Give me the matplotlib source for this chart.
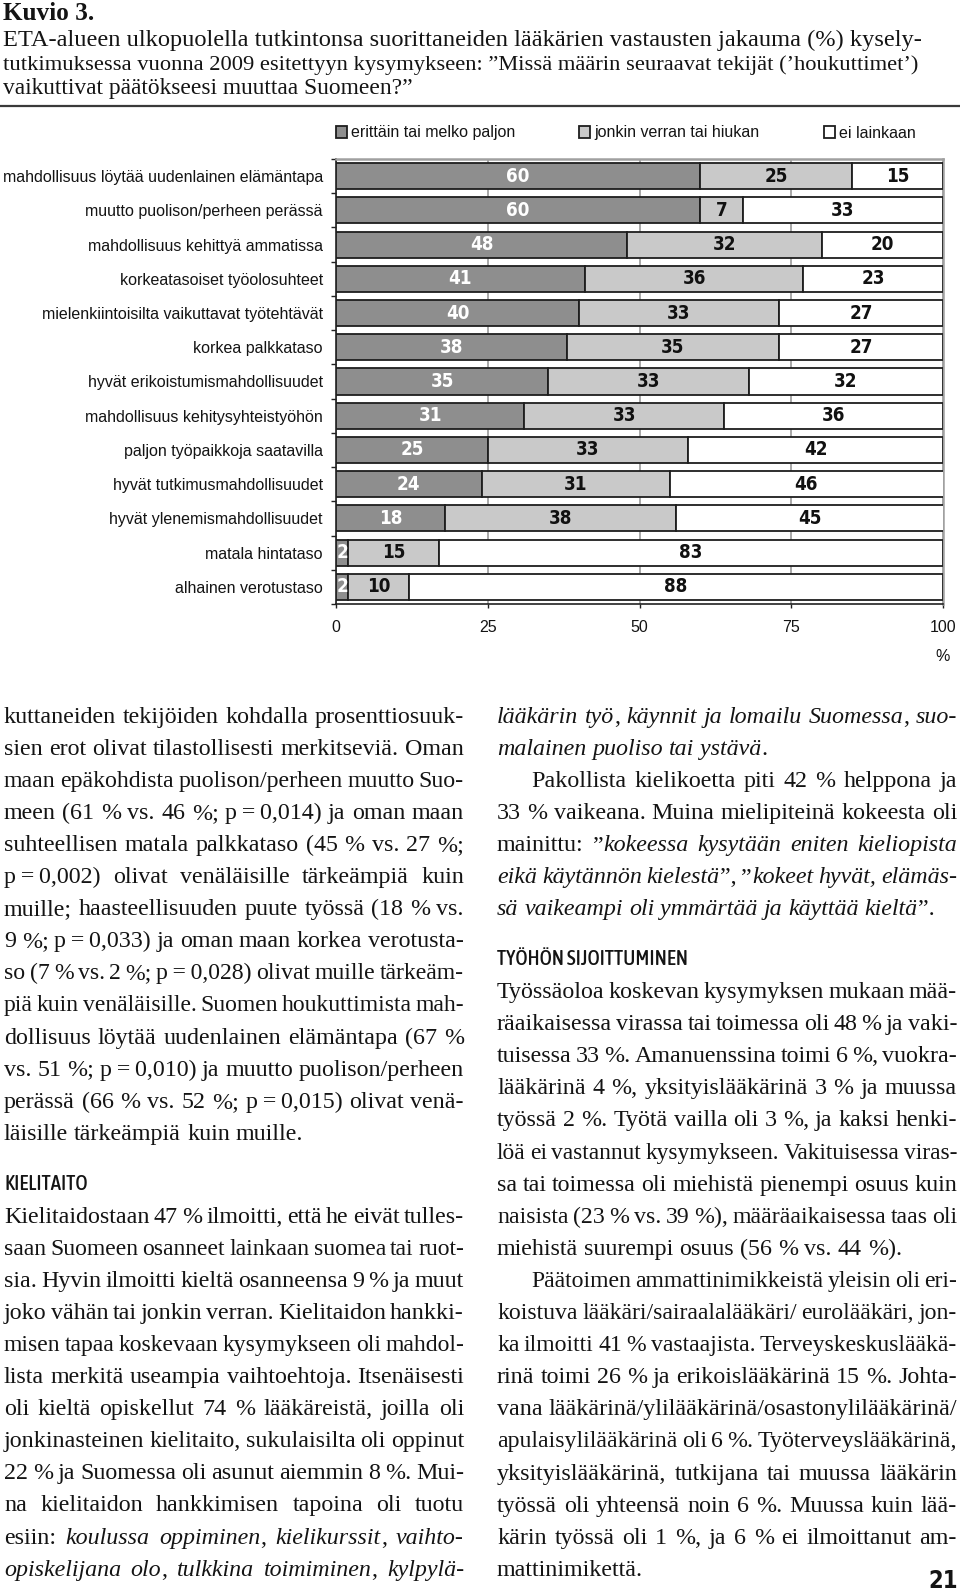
import matplotlib
matplotlib.use("Agg")
import matplotlib.pyplot as plt
import numpy as np
from matplotlib import font_manager
from matplotlib.font_manager import FontProperties

# ---------------- data ----------------
categories = [
    "mahdollisuus löytää uudenlainen elämäntapa",
    "muutto puolison/perheen perässä",
    "mahdollisuus kehittyä ammatissa",
    "korkeatasoiset työolosuhteet",
    "mielenkiintoisilta vaikuttavat työtehtävät",
    "korkea palkkataso",
    "hyvät erikoistumismahdollisuudet",
    "mahdollisuus kehitysyhteistyöhön",
    "paljon työpaikkoja saatavilla",
    "hyvät tutkimusmahdollisuudet",
    "hyvät ylenemismahdollisuudet",
    "matala hintataso",
    "alhainen verotustaso",
]
much = [60, 60, 48, 41, 40, 38, 35, 31, 25, 24, 18, 2, 2]
some = [25, 7, 32, 36, 33, 35, 33, 33, 33, 31, 38, 15, 10]
none = [15, 33, 20, 23, 27, 27, 32, 36, 42, 46, 45, 83, 88]
series_names = ["erittäin tai melko paljon", "jonkin verran tai hiukan", "ei lainkaan"]
xticks = [0, 25, 50, 75, 100]

title_head = "Kuvio 3."
title_lines = [
    "ETA-alueen ulkopuolella tutkintonsa suorittaneiden lääkärien vastausten jakauma (%) kysely-",
    "tutkimuksessa vuonna 2009 esitettyyn kysymykseen: ”Missä määrin seuraavat tekijät (’houkuttimet’)",
    "vaikuttivat päätökseesi muuttaa Suomeen?”",
]

T = "\u2009"
left_par1 = [
    "kuttaneiden tekijöiden kohdalla prosenttiosuuk-",
    "sien erot olivat tilastollisesti merkitseviä. Oman",
    "maan epäkohdista puolison/perheen muutto Suo-",
    f"meen (61 % vs. 46 %; p{T}={T}0,014) ja oman maan",
    "suhteellisen matala palkkataso (45 % vs. 27 %;",
    f"p{T}={T}0,002) olivat venäläisille tärkeämpiä kuin",
    "muille; haasteellisuuden puute työssä (18 % vs.",
    f"9 %; p{T}={T}0,033) ja oman maan korkea verotusta-",
    f"so (7 % vs. 2 %; p{T}={T}0,028) olivat muille tärkeäm-",
    "piä kuin venäläisille. Suomen houkuttimista mah-",
    "dollisuus löytää uudenlainen elämäntapa (67 %",
    f"vs. 51 %; p{T}={T}0,010) ja muutto puolison/perheen",
    f"perässä (66 % vs. 52 %; p{T}={T}0,015) olivat venä-",
    "läisille tärkeämpiä kuin muille.",
]
left_head = "KIELITAITO"
left_par2 = [
    "Kielitaidostaan 47 % ilmoitti, että he eivät tulles-",
    "saan Suomeen osanneet lainkaan suomea tai ruot-",
    "sia. Hyvin ilmoitti kieltä osanneensa 9 % ja muut",
    "joko vähän tai jonkin verran. Kielitaidon hankki-",
    "misen tapaa koskevaan kysymykseen oli mahdol-",
    "lista merkitä useampia vaihtoehtoja. Itsenäisesti",
    "oli kieltä opiskellut 74 % lääkäreistä, joilla oli",
    "jonkinasteinen kielitaito, sukulaisilta oli oppinut",
    "22 % ja Suomessa oli asunut aiemmin 8 %. Mui-",
    "na kielitaidon hankkimisen tapoina oli tuotu",
    "esiin: *koulussa oppiminen*, *kielikurssit*, *vaihto-*",
    "*opiskelijana olo*, *tulkkina toimiminen*, *kylpylä-*",
]
right_par1 = [
    "*lääkärin työ*, *käynnit ja lomailu Suomessa*, *suo-*",
    "*malainen puoliso tai ystävä*.",
    "Pakollista kielikoetta piti 42 % helppona ja",
    "33 % vaikeana. Muina mielipiteinä kokeesta oli",
    "mainittu: ”*kokeessa kysytään eniten kieliopista*",
    "*eikä käytännön kielestä*”, ”*kokeet hyvät, elämäs-*",
    "*sä vaikeampi oli ymmärtää ja käyttää kieltä*”.",
]
right_head = "TYÖHÖN SIJOITTUMINEN"
right_par2 = [
    "Työssäoloa koskevan kysymyksen mukaan mää-",
    "räaikaisessa virassa tai toimessa oli 48 % ja vaki-",
    "tuisessa 33 %. Amanuenssina toimi 6 %, vuokra-",
    "lääkärinä 4 %, yksityislääkärinä 3 % ja muussa",
    "työssä 2 %. Työtä vailla oli 3 %, ja kaksi henki-",
    "löä ei vastannut kysymykseen. Vakituisessa viras-",
    "sa tai toimessa oli miehistä pienempi osuus kuin",
    "naisista (23 % vs. 39 %), määräaikaisessa taas oli",
    "miehistä suurempi osuus (56 % vs. 44 %).",
    "Päätoimen ammattinimikkeistä yleisin oli eri-",
    "koistuva lääkäri/sairaalalääkäri/ eurolääkäri, jon-",
    "ka ilmoitti 41 % vastaajista. Terveyskeskuslääkä-",
    "rinä toimi 26 % ja erikoislääkärinä 15 %. Johta-",
    "vana lääkärinä/ylilääkärinä/osastonylilääkärinä/",
    "apulaisylilääkärinä oli 6 %. Työterveyslääkärinä,",
    "yksityislääkärinä, tutkijana tai muussa lääkärin",
    "työssä oli yhteensä noin 6 %. Muussa kuin lää-",
    "kärin työssä oli 1 %, ja 6 % ei ilmoittanut am-",
    "mattinimikettä.",
]
page_number = "21"

# ---------------- fonts ----------------
avail = {f.name for f in font_manager.fontManager.ttflist}
def pick(names, default):
    for n in names:
        if n in avail:
            return n
    return default
SANS = pick(["Liberation Sans", "Arimo"], "DejaVu Sans")
SERIF = pick(["Liberation Serif", "DejaVu Serif"], "DejaVu Serif")
SERIF_L = [SERIF, "DejaVu Serif"]

def _w(f):
    w = f.weight
    if isinstance(w, str):
        return {"bold": 700, "normal": 400, "medium": 500, "regular": 400,
                "semibold": 600, "light": 300}.get(w.lower(), 400)
    return int(w)

def find_condensed(target_weight):
    cands = []
    for f in font_manager.fontManager.ttflist:
        fn = f.fname.lower()
        nm = f.name.lower()
        st = str(f.stretch).lower()
        if f.style != "normal":
            continue
        cond = ("condensed" in st or "narrow" in nm or "condensed" in nm
                or "condensed" in fn or "narrow" in fn)
        if not cond:
            continue
        pen = 0
        if "extra" in fn or "ultra" in fn or "extra" in st or "ultra" in st:
            pen = 2
        elif "semi" in fn or "semi" in st:
            pen = 1
        cands.append((abs(_w(f) - target_weight), pen, f.fname))
    if not cands:
        return None
    cands.sort()
    return cands[0][2]

COND_BOLD = find_condensed(700)
COND_MED = find_condensed(500)

def cond_fp(path, size, fallback_weight):
    if path:
        return FontProperties(fname=path, size=size)
    return FontProperties(family=SANS, size=size, weight=fallback_weight)

W, H = 960, 1594
fig = plt.figure(figsize=(W / 100, H / 100), dpi=100)
page = fig.add_axes([0, 0, 1, 1], zorder=0)
page.set_xlim(0, W)
page.set_ylim(H, 0)
page.axis("off")
R = fig.canvas.get_renderer()

_cache = {}
def tw(s, size, style="normal", weight="normal"):
    key = (s, round(size, 4), style, weight)
    if key in _cache:
        return _cache[key]
    t = page.text(0, 0, s, fontsize=size, family=SERIF_L, fontstyle=style, fontweight=weight)
    w = t.get_window_extent(renderer=R).width
    t.remove()
    _cache[key] = w
    return w

def tw_fp(s, fp):
    t = page.text(0, 0, s, fontproperties=fp)
    w = t.get_window_extent(renderer=R).width
    t.remove()
    return w

COL = "#141414"
PX = 100 / 72

# ---------------- header ----------------
s_t1 = 20.0 * 918 / tw(title_lines[0], 20.0)
s_t2 = 20.0 * 911 / tw(title_lines[1], 20.0)
s_t3 = 0.5 * (s_t1 + s_t2)
page.text(3, 20, title_head, fontsize=s_t3 * 1.08, family=SERIF_L, weight="bold",
          va="baseline", color=COL)
for i, (ln, s) in enumerate(zip(title_lines, [s_t1, s_t2, s_t3])):
    page.text(3, 46 + 24 * i, ln, fontsize=s, family=SERIF_L, va="baseline", color=COL)
page.plot([0, W], [106, 106], color="#3a3a3a", lw=1.6, solid_capstyle="butt")

# ---------------- chart ----------------
x0, x1, ytop, ybot = 336, 943, 159, 604
ax = fig.add_axes([x0 / W, 1 - ybot / H, (x1 - x0) / W, (ybot - ytop) / H], zorder=2)
y = np.arange(len(categories))
c_dark, c_light, c_white = "#8e8e8e", "#c9c9c9", "#ffffff"
edge = "#1e1e1e"
much_a, some_a, none_a = np.array(much), np.array(some), np.array(none)
b1 = ax.barh(y, much_a, height=0.76, color=c_dark, edgecolor=edge, lw=1.3,
             label=series_names[0], zorder=3)
b2 = ax.barh(y, some_a, left=much_a, height=0.76, color=c_light, edgecolor=edge, lw=1.3,
             label=series_names[1], zorder=3)
b3 = ax.barh(y, none_a, left=much_a + some_a, height=0.76, color=c_white, edgecolor=edge, lw=1.3,
             label=series_names[2], zorder=3)
lab_fp = cond_fp(COND_BOLD, 13.5 if COND_BOLD else 12.5, "bold")
ax.bar_label(b1, labels=[str(v) for v in much], label_type="center", color="white", fontproperties=lab_fp)
ax.bar_label(b2, labels=[str(v) for v in some], label_type="center", color="#111111", fontproperties=lab_fp)
ax.bar_label(b3, labels=[str(v) for v in none], label_type="center", color="#111111", fontproperties=lab_fp)

ax.set_xlim(0, 100)
ax.set_ylim(len(categories) - 0.5, -0.5)
ax.set_xticks(xticks)
ax.set_xticklabels([str(v) for v in xticks], fontsize=11.5, family=SANS, color=COL)
ax.set_yticks(y)
ax.set_yticklabels(categories, fontsize=11.5, family=SANS, color=COL)
ax.set_yticks(np.arange(-0.5, len(categories), 1.0), minor=True)
ax.tick_params(axis="y", which="major", length=0, pad=9.4)
ax.tick_params(axis="y", which="minor", length=3.6, width=1, color="#222222", direction="out")
ax.tick_params(axis="x", which="major", length=3.2, width=1, color="#222222", direction="out", pad=8)
ax.grid(axis="x", color="#9a9a9a", lw=1.2, zorder=0)
ax.set_axisbelow(True)
for sp in ["left", "bottom"]:
    ax.spines[sp].set_color("#222222")
    ax.spines[sp].set_linewidth(1.2)
for sp in ["top", "right"]:
    ax.spines[sp].set_color("#a0a0a0")
    ax.spines[sp].set_linewidth(1.8)

leg = ax.legend(handles=[b1, b2, b3], labels=series_names, ncol=3, loc="center left",
                bbox_to_anchor=(x0 / W, 1 - 133 / H), bbox_transform=fig.transFigure,
                frameon=False, handlelength=0.7, handleheight=0.7,
                handletextpad=0.25, columnspacing=4.0, borderpad=0, borderaxespad=0,
                prop={"family": SANS, "size": 11.5})
for t in leg.get_texts():
    t.set_color(COL)
page.text(943, 656, "%", fontsize=11.5, family=SANS, ha="center", va="center", color=COL)

# ---------------- body text ----------------
def parse(line):
    segs = line.split("*")
    words = [[]]
    for i, s in enumerate(segs):
        it = (i % 2 == 1)
        parts = s.split(" ")
        for j, p in enumerate(parts):
            if j > 0:
                words.append([])
            if p:
                words[-1].append((p, it))
    return [w for w in words if w]

def word_w(word, size):
    return sum(tw(p, size, style="italic" if it else "normal") for p, it in word)

def space_w(size):
    return tw("a a", size) - tw("aa", size)

COLW = 460
LX, RX = 4, 497
DY = 32.1
blocks = []
for i, ln in enumerate(left_par1):
    blocks.append((ln, LX, 717 + DY * i, i < len(left_par1) - 1, 0))
for i, ln in enumerate(left_par2):
    blocks.append((ln, LX, 1217 + DY * i, True, 0))
for i, ln in enumerate(right_par1):
    blocks.append((ln, RX, 717 + DY * i, i not in (1, 6), 34 if i == 2 else 0))
for i, ln in enumerate(right_par2):
    blocks.append((ln, RX, 992.5 + DY * i, i not in (8, 18), 34 if i == 9 else 0))

ratios = []
for ln, bx, by, just, ind in blocks:
    if just:
        ws = parse(ln)
        nat = sum(word_w(w, 12) for w in ws) + (len(ws) - 1) * space_w(12)
        ratios.append((COLW - ind) / nat)
BODY = 12 * float(np.median(ratios))

for ln, bx, by, just, ind in blocks:
    ws = parse(ln)
    avail_w = COLW - ind
    size = BODY
    n = len(ws) - 1
    if just and n > 0:
        sumw = sum(word_w(w, BODY) for w in ws)
        need = sumw + n * 0.72 * space_w(BODY)
        if need > avail_w:
            size = BODY * avail_w / need
    widths = [word_w(w, size) for w in ws]
    if just and n > 0:
        gap = (avail_w - sum(widths)) / n
    else:
        gap = space_w(size)
    x = bx + ind
    base = by + 0.23 * BODY * PX
    for w, wd in zip(ws, widths):
        xx = x
        for p, it in w:
            st = "italic" if it else "normal"
            page.text(xx, base, p, fontsize=size, family=SERIF_L, fontstyle=st,
                      va="baseline", ha="left", color=COL)
            xx += tw(p, size, style=st)
        x += wd + gap

# headings
def heading(txt, x, yc, target_w):
    fp = cond_fp(COND_MED, 15.0, "normal")
    wd = tw_fp(txt, fp)
    if wd > target_w * 1.15:
        fp = cond_fp(COND_MED, 15.0 * target_w * 1.15 / wd, "normal")
    page.text(x, yc + 0.36 * fp.get_size_in_points() * PX, txt, fontproperties=fp,
              va="baseline", color=COL)

heading(left_head, LX, 1183, 76)
heading(right_head, RX, 957, 175)
page.text(958, 1581, page_number, fontproperties=cond_fp(COND_BOLD, 17, "bold"),
          ha="right", va="center", color=COL)

fig.savefig("out.png", dpi=100)
